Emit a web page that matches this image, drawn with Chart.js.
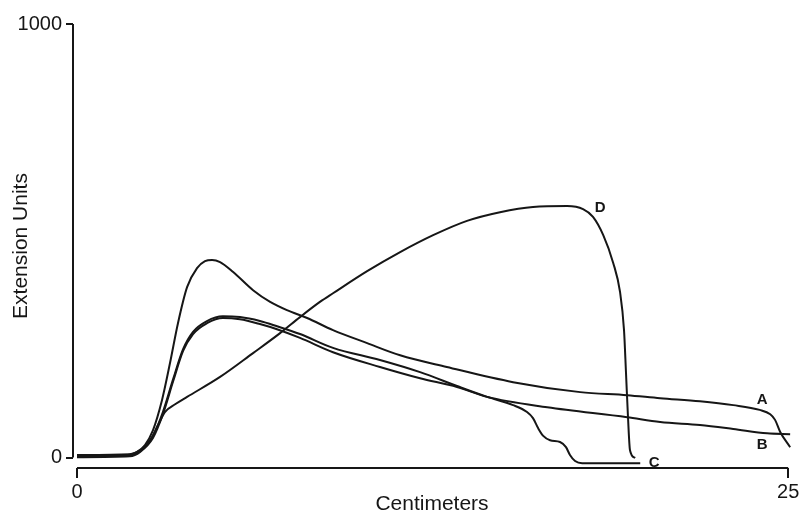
<!DOCTYPE html>
<html>
<head>
<meta charset="utf-8">
<script src="https://cdn.jsdelivr.net/npm/chart.js@4/dist/chart.umd.min.js"></script>
<style>
  body { margin: 0; background: #fff; }
  canvas { display: block; }
</style>
</head>
<body>
<canvas id="myChart" width="802" height="515"></canvas>
<script>
// curves: x in centimeters, y in extension units
var curveA = [
    {x:0,y:3},{x:1.79,y:6},{x:2.11,y:13},{x:2.39,y:29},{x:2.67,y:63},{x:2.99,y:133},
    {x:3.27,y:218},{x:3.55,y:310},{x:3.87,y:393},{x:4.22,y:437},{x:4.5,y:453},{x:4.75,y:456},
    {x:5.03,y:451},{x:5.49,y:428},{x:6.19,y:386},{x:6.79,y:359},{x:7.38,y:340},{x:8.09,y:322},
    {x:9.0,y:294},{x:10.2,y:264},{x:11.36,y:236},{x:13.0,y:209},{x:15.33,y:174},{x:17.69,y:151},
    {x:19.34,y:144},{x:20.5,y:137},{x:21.9,y:130},{x:23.07,y:121},{x:24.0,y:110},{x:24.37,y:100},
    {x:24.54,y:87},{x:24.72,y:59},{x:25.07,y:24}
];
var curveB = [
    {x:0,y:1},{x:1.86,y:3},{x:2.22,y:13},{x:2.67,y:45},{x:3.02,y:100},{x:3.38,y:176},
    {x:3.73,y:246},{x:4.08,y:285},{x:4.57,y:310},{x:5.13,y:322},{x:5.73,y:319},{x:6.43,y:308},
    {x:7.03,y:296},{x:7.84,y:276},{x:9.0,y:243},{x:10.65,y:209},{x:12.06,y:183},{x:13.36,y:163},
    {x:14.42,y:140},{x:16.53,y:116},{x:19.34,y:93},{x:20.5,y:82},{x:21.9,y:75},{x:23.07,y:66},
    {x:24.26,y:56},{x:25.07,y:54}
];
var curveC = [
    {x:0,y:3},{x:1.86,y:6},{x:2.22,y:15},{x:2.67,y:50},{x:3.02,y:105},{x:3.38,y:181},
    {x:3.73,y:250},{x:4.08,y:290},{x:4.57,y:315},{x:5.13,y:326},{x:5.73,y:324},{x:6.43,y:315},
    {x:7.03,y:303},{x:7.84,y:285},{x:9.0,y:253},{x:10.65,y:225},{x:12.06,y:197},{x:13.36,y:165},
    {x:14.42,y:140},{x:15.33,y:121},{x:15.82,y:105},{x:16.03,y:91},{x:16.21,y:68},{x:16.39,y:50},
    {x:16.63,y:40},{x:16.98,y:36},{x:17.19,y:24},{x:17.33,y:6},{x:17.51,y:-8},{x:17.76,y:-13},
    {x:19.8,y:-13}
];
var curveD = [
    {x:0,y:6},{x:1.86,y:8},{x:2.22,y:17},{x:2.57,y:40},{x:2.85,y:75},{x:3.09,y:105},
    {x:3.45,y:123},{x:3.87,y:140},{x:5.03,y:186},{x:6.19,y:241},{x:7.14,y:287},{x:7.84,y:324},
    {x:8.54,y:359},{x:9.0,y:379},{x:10.2,y:430},{x:11.36,y:474},{x:12.52,y:513},{x:13.71,y:546},
    {x:14.87,y:566},{x:16.03,y:578},{x:17.23,y:580},{x:17.79,y:573},{x:18.14,y:555},{x:18.5,y:513},
    {x:18.85,y:449},{x:19.09,y:382},{x:19.23,y:294},{x:19.3,y:195},{x:19.37,y:93},{x:19.44,y:17},
    {x:19.62,y:-1}
];
var curveNames = ["A", "B", "C", "D"];
var curveLabelAt = [{x:24.09,y:133},{x:24.09,y:29},{x:20.29,y:-13},{x:18.39,y:575}];
var xTicks = [0, 25];
var yTicks = [0, 1000];

var ink = "#161616";
var font = "'Liberation Sans', Arial, sans-serif";

// axis lines stop at the first and last tick, like the original
var axisLines = {
    id: 'axisLines',
    beforeDatasetsDraw: function(chart) {
        var ctx = chart.ctx, xs = chart.scales.x, ys = chart.scales.y;
        ctx.save();
        ctx.strokeStyle = ink;
        ctx.lineWidth = 2;
        ctx.beginPath();
        ctx.moveTo(chart.chartArea.left, ys.getPixelForValue(yTicks[1]));
        ctx.lineTo(chart.chartArea.left, ys.getPixelForValue(yTicks[0]));
        ctx.moveTo(xs.getPixelForValue(xTicks[0]), chart.chartArea.bottom);
        ctx.lineTo(xs.getPixelForValue(xTicks[1]), chart.chartArea.bottom);
        ctx.stroke();
        ctx.restore();
    }
};

var curveLabels = {
    id: 'curveLabels',
    afterDatasetsDraw: function(chart) {
        var ctx = chart.ctx, xs = chart.scales.x, ys = chart.scales.y;
        ctx.save();
        ctx.fillStyle = ink;
        ctx.font = "bold 15px " + font;
        ctx.textAlign = "center";
        ctx.textBaseline = "middle";
        curveNames.forEach(function(n, i) {
            ctx.fillText(n, xs.getPixelForValue(curveLabelAt[i].x), ys.getPixelForValue(curveLabelAt[i].y));
        });
        ctx.restore();
    }
};

var ctx = document.getElementById("myChart").getContext('2d');
var sets = [curveA, curveB, curveC, curveD].map(function(d, i) {
    return {
        label: curveNames[i],
        data: d,
        borderColor: ink,
        borderWidth: 2,
        pointRadius: 0,
        fill: false,
        cubicInterpolationMode: 'monotone'
    };
});

var chart = new Chart(ctx, {
    type: 'line',
    data: { datasets: sets },
    plugins: [axisLines, curveLabels],
    options: {
        responsive: false,
        animation: false,
        layout: { padding: { top: 24, right: 11, bottom: 0, left: 0 } },
        plugins: {
            legend: { display: false },
            tooltip: { enabled: false }
        },
        scales: {
            x: {
                type: 'linear',
                min: -0.14,
                max: 25.1,
                afterBuildTicks: function(s) { s.ticks = xTicks.map(function(v) { return {value: v}; }); },
                afterFit: function(s) { s.height = 47; },
                border: { display: false },
                grid: { drawOnChartArea: false, drawTicks: true, tickLength: 10, color: ink, lineWidth: 2 },
                ticks: { color: ink, font: { family: font, size: 20 }, padding: 2, maxRotation: 0,
                         callback: function(v) { return String(v); } },
                title: { display: true, text: 'Centimeters', color: ink, font: { family: font, size: 21, lineHeight: 1 }, padding: 0 }
            },
            y: {
                type: 'linear',
                min: -24,
                max: 1000,
                afterBuildTicks: function(s) { s.ticks = yTicks.map(function(v) { return {value: v}; }); },
                afterFit: function(s) { s.width = 73; },
                border: { display: false },
                grid: { drawOnChartArea: false, drawTicks: true, tickLength: 7, color: ink, lineWidth: 2 },
                ticks: { color: ink, font: { family: font, size: 20 }, padding: 4,
                         callback: function(v) { return String(v); } },
                title: { display: true, text: 'Extension Units', color: ink, font: { family: font, size: 21, lineHeight: 1 }, padding: { top: 11, bottom: 0 } }
            }
        }
    }
});
</script>
</body>
</html>
